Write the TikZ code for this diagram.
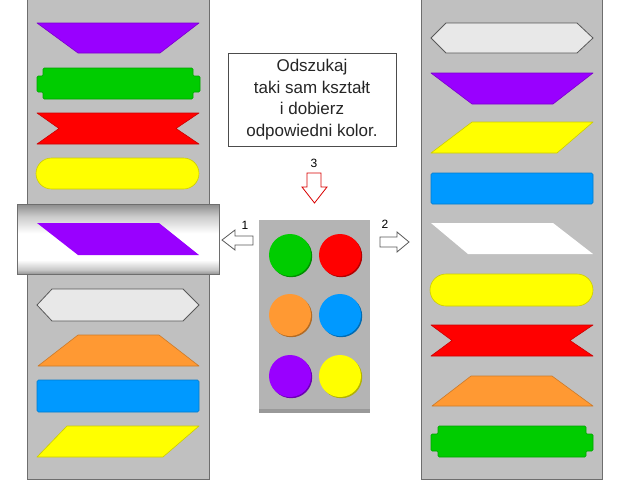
\documentclass[tikz,border=0pt]{standalone}
\usepackage{fontspec}
\setmainfont{Liberation Sans}
\definecolor{panel}{HTML}{C0C0C0}
\definecolor{pborder}{HTML}{6E6E6E}
\definecolor{purp}{HTML}{9900FF}
\definecolor{grn}{HTML}{00CC00}
\definecolor{rd}{HTML}{FF0000}
\definecolor{yel}{HTML}{FFFF00}
\definecolor{org}{HTML}{FF9933}
\definecolor{blu}{HTML}{0099FF}
\definecolor{lgray}{HTML}{E8E8E8}
\definecolor{cpanel}{HTML}{B4B4B4}
% the path box maps to 25bp..75bp; y axis is flipped, so 25bp is the top
\pgfdeclareverticalshading{roller}{100bp}{
  color(0bp)=(black!42);
  color(25bp)=(black!42);
  color(28bp)=(black!22);
  color(35bp)=(white);
  color(54bp)=(white);
  color(66bp)=(black!20);
  color(75bp)=(black!45);
  color(100bp)=(black!45)}
\tikzset{
  colpanel/.style={fill=panel, draw=pborder, line width=0.8pt},
  shp/.style={fill=#1, draw=#1!80!black, line width=0.6pt, line join=round},
  hollow/.style={fill=white, draw=black!65, line width=0.8pt, line join=miter},
  redhollow/.style={fill=white, draw=rd!85!black, line width=0.8pt, line join=miter},
  num/.style={font=\fontsize{12}{12}\selectfont, inner sep=0pt},
  disc/.style={fill=#1, draw=none},
  discshadow/.style={fill=#1!70!black, draw=none},
}
\begin{document}
\begin{tikzpicture}[x=1pt,y=-1pt]
\useasboundingbox (0,0) rectangle (633,480);
\fill[white] (0,0) rectangle (633,480);

% ---------- left column ----------
\draw[colpanel] (27,-2) rectangle (209,479);
\draw[shp=purp] (37,23) -- (199,23) -- (160,53) -- (78,53) -- cycle;
\draw[shp=grn, rounded corners=1.2pt] (43,68) -- (193,68) -- (193,76) -- (200,76) -- (200,92) -- (193,92) -- (193,99) -- (43,99) -- (43,92) -- (37,92) -- (37,76) -- (43,76) -- cycle;
\draw[shp=rd] (37,113) -- (199,113) -- (176,128.5) -- (199,144) -- (37,144) -- (59,128.5) -- cycle;
\draw[shp=yel, rounded corners=15.5pt] (36,158) rectangle (199,189);

% roller
\shade[shading=roller] (17,204) rectangle (219,274);
\draw[pborder, line width=0.8pt] (17,204) rectangle (219,274);
\fill[purp] (37,223) -- (159,223) -- (199,255) -- (78,255) -- cycle;

\draw[fill=lgray, draw=black!65, line width=0.8pt] (37,305) -- (52,289) -- (183,289) -- (199,305) -- (183,321) -- (52,321) -- cycle;
\draw[shp=org] (78,335) -- (159,335) -- (199,366) -- (38,366) -- cycle;
\draw[shp=blu, rounded corners=1.5pt] (37,380) rectangle (199,412);
\draw[shp=yel] (67,426) -- (199,426) -- (163,457) -- (37,457) -- cycle;

% ---------- right column ----------
\draw[colpanel] (421,-2) rectangle (602,479);
\draw[fill=lgray, draw=black!65, line width=0.8pt] (431,38) -- (446,23) -- (577,23) -- (593,38) -- (577,53) -- (446,53) -- cycle;
\draw[shp=purp] (431,73) -- (593,73) -- (553,104) -- (472,104) -- cycle;
\draw[shp=yel] (472,122) -- (593,122) -- (557,153) -- (431,153) -- cycle;
\draw[shp=blu, rounded corners=1.5pt] (431,173) rectangle (593,204);
\fill[white] (431,223) -- (553,223) -- (593,254) -- (468,254) -- cycle;
\draw[shp=yel, rounded corners=16pt] (430,274) rectangle (593,306);
\draw[shp=rd] (431,325) -- (593,325) -- (570,340.5) -- (593,356) -- (431,356) -- (452,340.5) -- cycle;
\draw[shp=org] (471,376) -- (552,376) -- (593,406) -- (432,406) -- cycle;
\draw[shp=grn, rounded corners=1.2pt] (438,426) -- (586,426) -- (586,434) -- (593,434) -- (593,451) -- (586,451) -- (586,457) -- (438,457) -- (438,451) -- (431,451) -- (431,434) -- (438,434) -- cycle;

% ---------- instruction box ----------
\node[draw=black!70, line width=0.8pt, minimum width=168pt, minimum height=93pt, inner sep=0pt,
      align=center, font=\fontsize{17}{21.5}\selectfont, text=black!85] (box) at (312,99.5)
  {Odszukaj\\taki sam kształt\\i dobierz\\odpowiedni kolor.};

% ---------- centre panel ----------
\fill[black!40] (259,224) rectangle (370,413);
\fill[cpanel] (259,220) rectangle (370,409);
\foreach \cx/\cy/\cc in {290/255/grn, 340/255/rd, 290/315/org, 340/315/blu, 290/376/purp, 340/376/yel}{
  \fill[discshadow=\cc] (\cx+1.2,\cy+1.2) circle (21);
  \fill[disc=\cc] (\cx,\cy) circle (21);
}

% ---------- arrows ----------
\draw[hollow] (222,240) -- (235,230) -- (235,236) -- (253,236) -- (253,245) -- (235,245) -- (235,250) -- cycle;
\node[num] (n1) at (245,225) {1};
\draw[hollow] (409,242) -- (397,252) -- (397,247) -- (380,247) -- (380,237) -- (397,237) -- (397,232) -- cycle;
\node[num] (n2) at (385,224) {2};
\draw[redhollow] (314.5,203) -- (302,187) -- (307,187) -- (307,173) -- (321,173) -- (321,187) -- (327,187) -- cycle;
\node[num] (n3) at (314,163) {3};
\end{tikzpicture}
\end{document}
